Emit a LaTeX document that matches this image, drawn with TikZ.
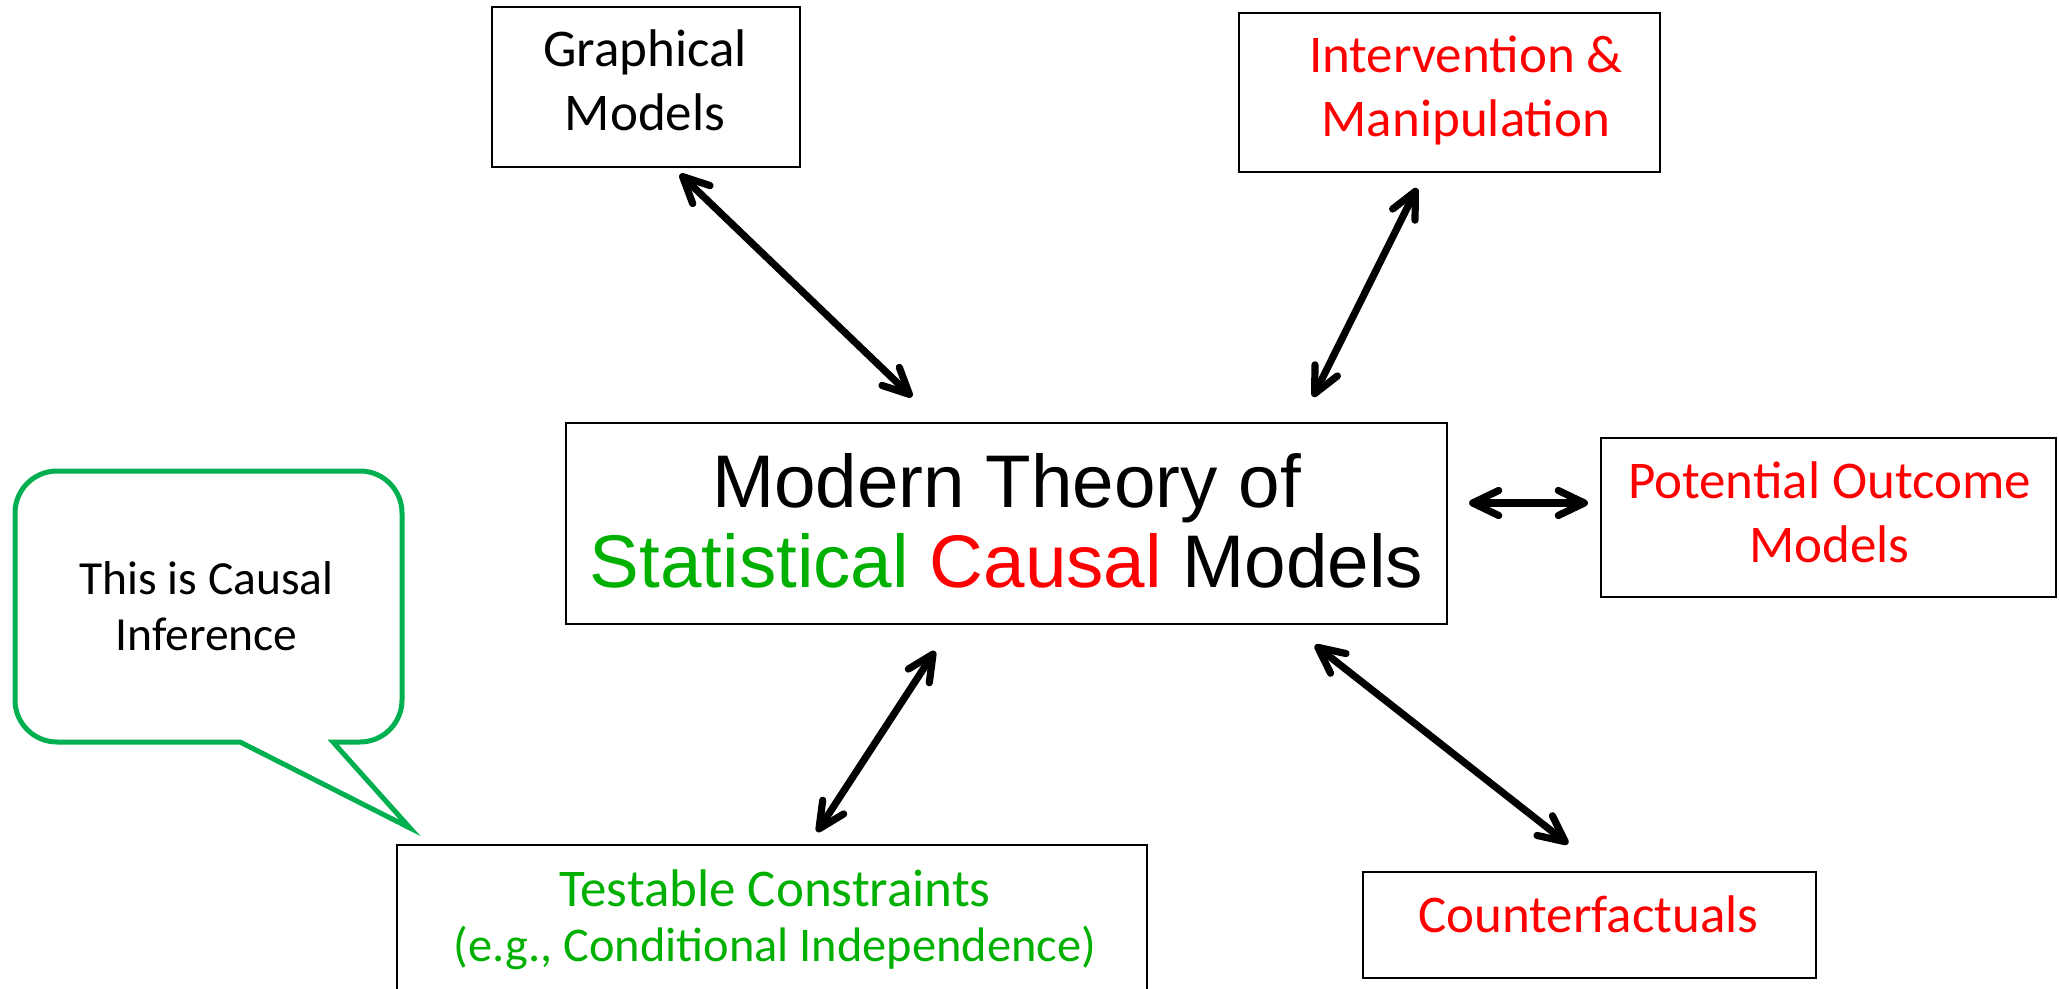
\documentclass[tikz,border=0pt]{standalone}
\usepackage{fontspec}
\setmainfont{Carlito}
\newfontfamily\arialf{Liberation Sans}
\usetikzlibrary{arrows.meta}
\definecolor{pptred}{HTML}{FF0000}
\definecolor{pptgreen}{HTML}{00B000}
\definecolor{bubgreen}{HTML}{00B050}
\begin{document}
\begin{tikzpicture}[x=0.5pt,y=-0.5pt,
  box/.style={draw=black, line width=1.1pt, inner sep=0pt},
  txt/.style={inner sep=0pt, align=center},
  bodyfont/.style={font=\fontsize{26.5}{32}\selectfont},
  dbl/.style={line width=3.6pt,
    {Straight Barb[length=13pt,width=12.5pt,round]}-{Straight Barb[length=13pt,width=12.5pt,round]}}]
\useasboundingbox (0,0) rectangle (2059,989);

% boxes
\node[box, minimum width=154pt, minimum height=80pt] (gm) at (646,87) {};
\node[box, minimum width=210.5pt, minimum height=79.5pt] (im) at (1449.5,92.5) {};
\node[box, minimum width=440.5pt, minimum height=100.5pt] (ctr) at (1006.5,523.5) {};
\node[box, minimum width=227.5pt, minimum height=79.5pt] (po) at (1828.5,517.5) {};
\node[box, minimum width=375pt, minimum height=82.5pt] (tc) at (772,927.5) {};
\node[box, minimum width=226.5pt, minimum height=53pt] (cf) at (1589.5,925) {};

% texts
\node[txt, bodyfont] (gmt) at (645,86.2) {Graphical\strut\\Models\strut};
\node[txt, bodyfont, text=pptred] (imt) at (1466,92.2) {Intervention \&\strut\\Manipulation\strut};
\node[txt, bodyfont, text=pptred] (pot) at (1829.5,517.2) {Potential Outcome\strut\\Models\strut};
\node[txt, bodyfont, text=pptred] (cft) at (1588.5,919.2) {Counterfactuals\strut};
\node[txt, bodyfont, text=pptgreen, anchor=base] (tct1) at (775,906) {Testable Constraints};
\node[txt, font=\fontsize{24.2}{28}\selectfont, text=pptgreen, anchor=base] (tct2) at (775,961) {(e.g., Conditional Independence)};
\node[txt, font=\arialf\fontsize{37.3}{40}\selectfont] (ctrt) at (1006.5,531)
  {Modern Theory of\strut\\\textcolor{pptgreen}{Statistical} \textcolor{pptred}{Causal} Models\strut};

% speech bubble
\draw[bubgreen, line width=2.5pt, line join=miter, fill=white]
  (240,742) -- (57,742) arc[start angle=270, end angle=180, radius=21pt]
  -- (15,513) arc[start angle=180, end angle=90, radius=21pt]
  -- (360,471) arc[start angle=90, end angle=0, radius=21pt]
  -- (402,700) arc[start angle=0, end angle=-90, radius=21pt]
  -- (333,742) -- (410,828) -- cycle;
\node[txt, font=\fontsize{23.75}{28}\selectfont] (bubt) at (206.5,610.8) {This is Causal\strut\\Inference\strut};

% connectors
\draw[dbl] ([shift={(34,6)}]gm.south) -- ([shift={(-94.5,-25)}]ctr.north);
\draw[dbl] ([shift={(-32.5,15)}]im.south) -- ([shift={(306.5,-25)}]ctr.north);
\draw[dbl] ([shift={(21,-20.5)}]ctr.east) -- ([shift={(-12,-14.5)}]po.west);
\draw[dbl] ([shift={(-71.5,26)}]ctr.south) -- ([shift={(45,-12)}]tc.north);
\draw[dbl] ([shift={(308.5,20)}]ctr.south) -- ([shift={(-21.5,-27)}]cf.north);
\end{tikzpicture}
\end{document}
